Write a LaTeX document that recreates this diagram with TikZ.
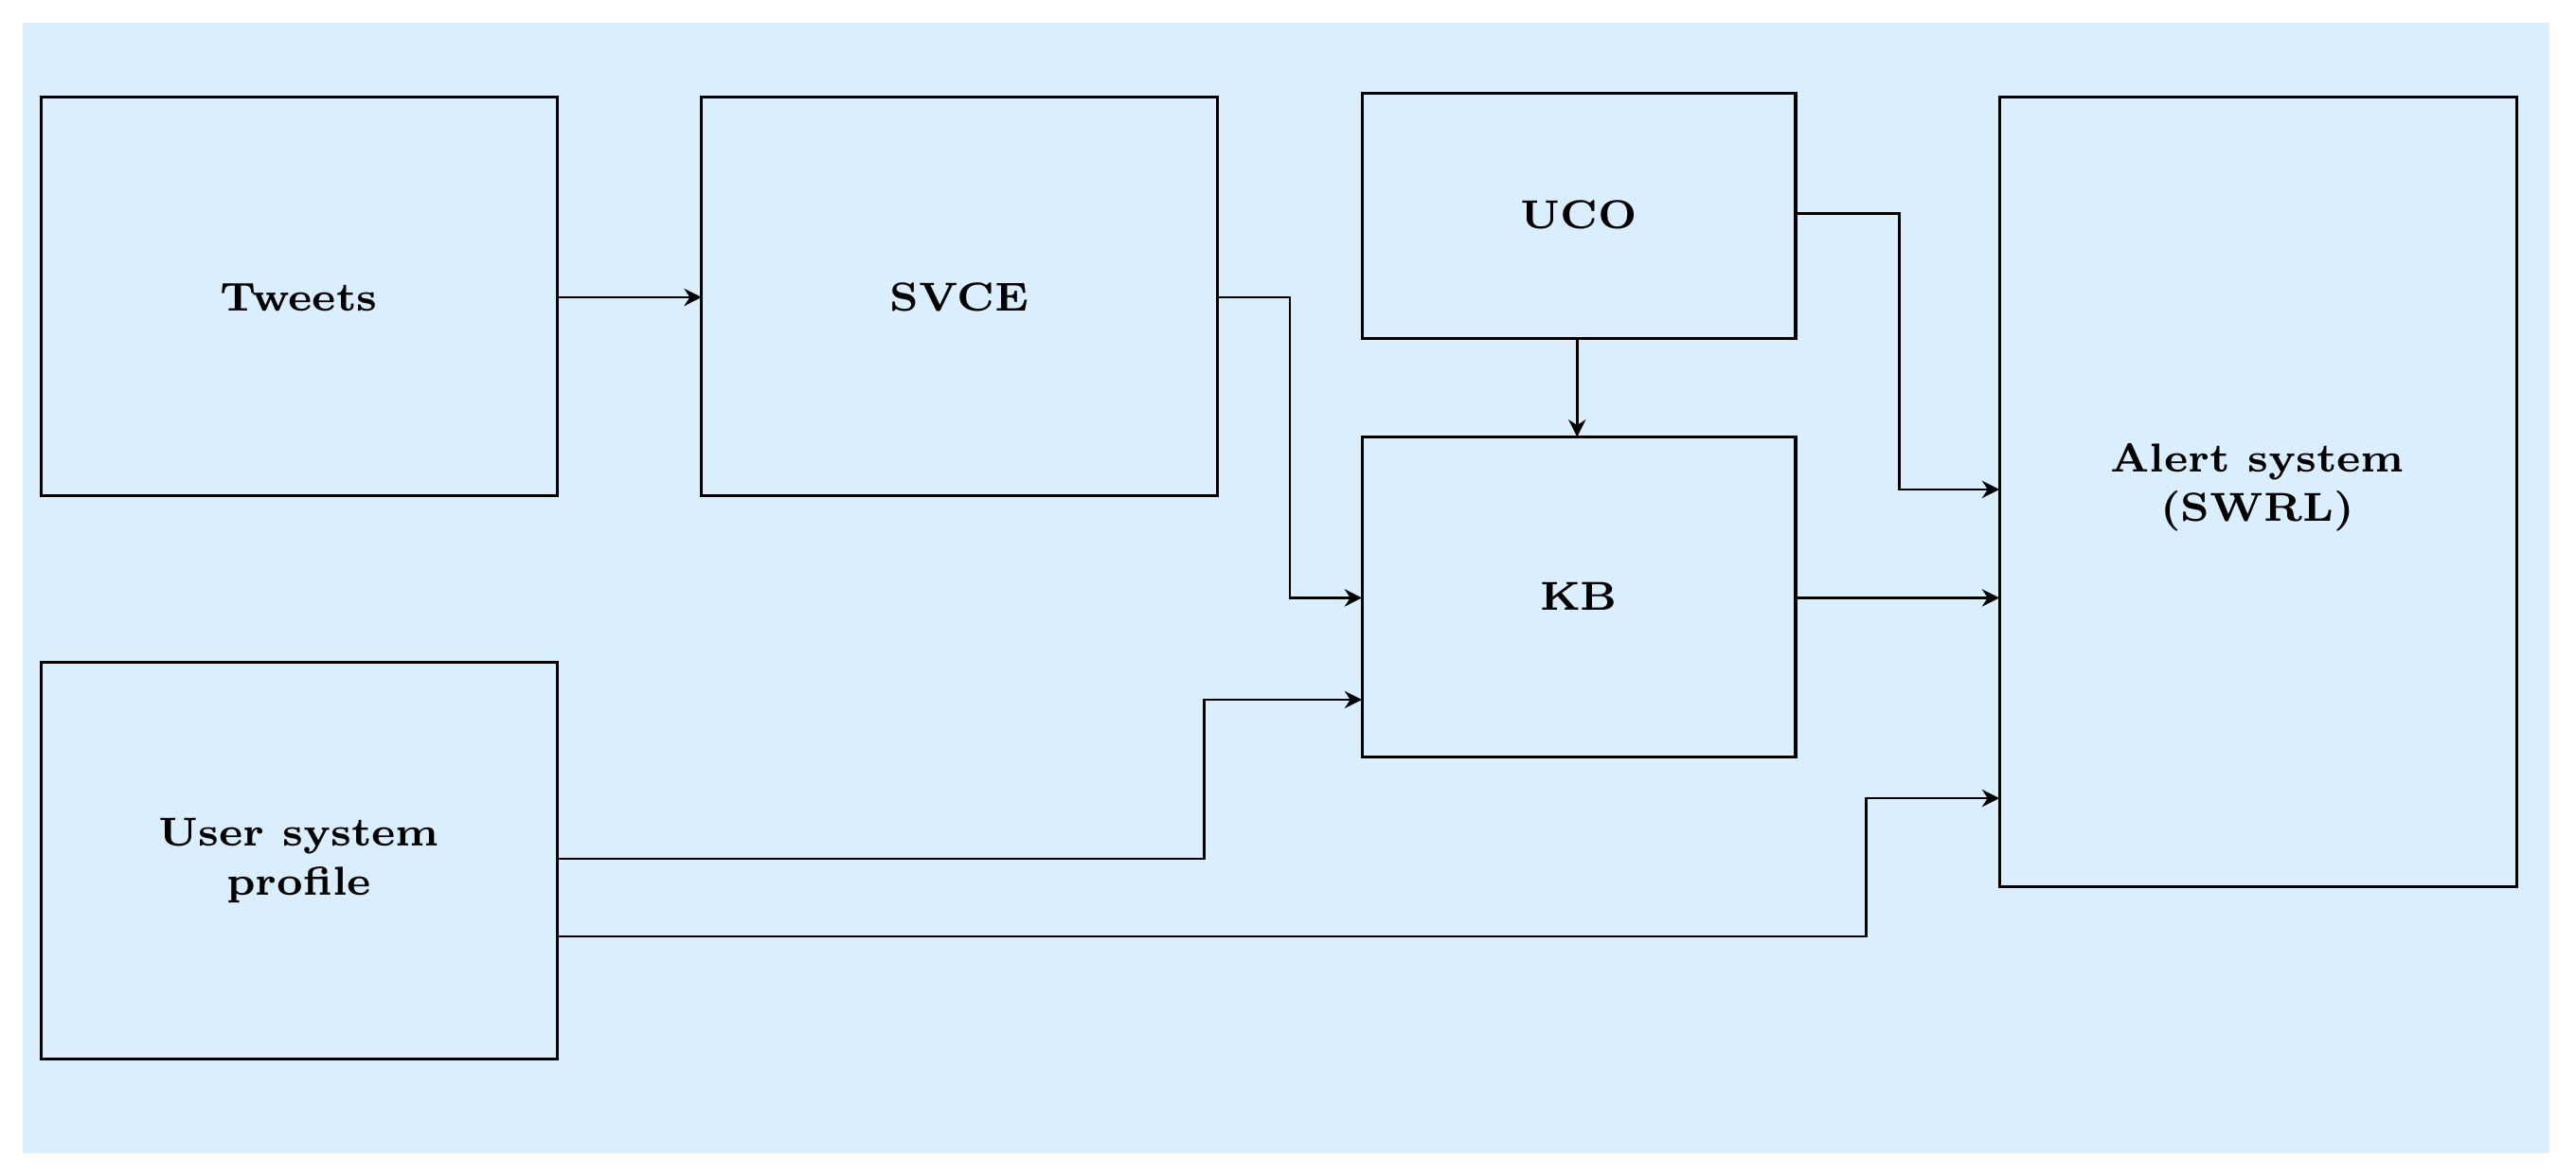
\documentclass[tikz,border=0pt]{standalone}
\usetikzlibrary{arrows.meta}
\definecolor{bg}{HTML}{DAEEFD}
\begin{document}
\begin{tikzpicture}[x=0.01cm,y=-0.01cm,
  box/.style={draw,line width=0.5pt},
  lbl/.style={font=\fontsize{7}{8.5}\selectfont\bfseries,align=center},
  conn/.style={draw,line width=0.4pt,-{Stealth[length=3pt,width=3pt]}}]
\useasboundingbox (0,0) rectangle (1568,715);
\fill[bg] (14,14) rectangle (1552,702);
\draw[box] (25,59) rectangle (339,302) coordinate (tw2); \coordinate (tw1) at (25,59);
\node[lbl] (tw) at (182,181) {Tweets};
\draw[box] (427,59) rectangle (741,302);
\node[lbl] (sv) at (584,181) {SVCE};
\draw[box] (829,57) rectangle (1093,206);
\node[lbl] (uco) at (961,131) {UCO};
\draw[box] (829,266) rectangle (1093,461);
\node[lbl] (kb) at (961,363) {KB};
\draw[box] (1217,59) rectangle (1532,540);
\node[lbl] (al) at (1374,297) {Alert system\\(SWRL)};
\draw[box] (25,403) rectangle (339,645);
\node[lbl] (us) at (182,524) {User system\\profile};
\coordinate (a1) at (339,181); \coordinate (a2) at (427,181);
\draw[conn] (a1) -- (a2);
\coordinate (b1) at (741,181); \coordinate (b2) at (829,364);
\draw[conn] (b1) -- (785,181) |- (b2);
\coordinate (c1) at (960,206); \coordinate (c2) at (960,266);
\draw[conn] (c1) -- (c2);
\coordinate (d1) at (339,523); \coordinate (d2) at (829,426);
\draw[conn] (d1) -- (733,523) |- (d2);
\coordinate (e1) at (339,570); \coordinate (e2) at (1217,486);
\draw[conn] (e1) -- (1136,570) |- (e2);
\coordinate (f1) at (1093,130); \coordinate (f2) at (1217,298);
\draw[conn] (f1) -- (1156,130) |- (f2);
\coordinate (g1) at (1093,364); \coordinate (g2) at (1217,364);
\draw[conn] (g1) -- (g2);
\end{tikzpicture}
\end{document}
